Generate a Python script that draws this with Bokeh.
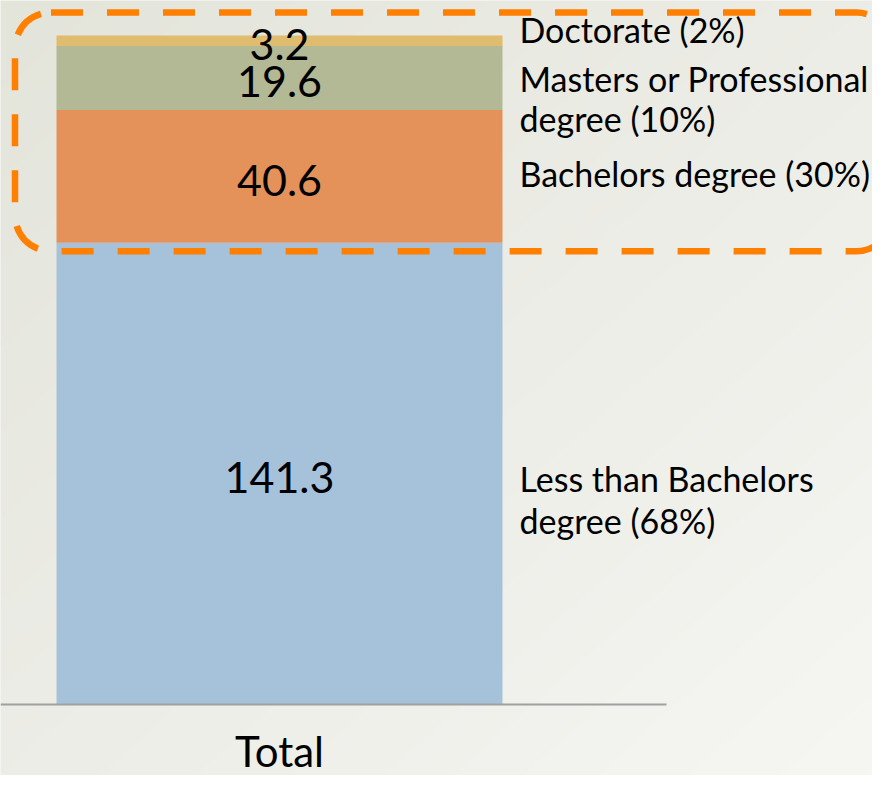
import numpy as np
from bokeh.plotting import figure
from bokeh.models import Range1d, BoxAnnotation, ColumnDataSource
from bokeh.core.properties import value
from bokeh.embed import file_html
from bokeh.resources import INLINE

# ---------------- data ----------------
category = ["Total"]
levels = ["Less than Bachelors degree", "Bachelors degree",
          "Masters or Professional degree", "Doctorate"]
counts = [141.3, 40.6, 19.6, 3.2]          # stacked from bottom to top
shares = [68, 30, 10, 2]                    # percent of total
label_lines = [["Less than Bachelors", "degree (68%)"],
               ["Bachelors degree (30%)"],
               ["Masters or Professional", "degree (10%)"],
               ["Doctorate (2%)"]]
colors = ["#A6C2DA", "#E5925A", "#B3B994", "#E0BC6E"]

# ---------------- layout / style ----------------
W, H = 872, 775
BAR_PX = 446            # bar width in pixels (= 1 data unit)
BAR_LEFT_PX = 56
BASE_PX = 704           # pixel row of y = 0
TOP_PX = 35             # pixel row of the stack top
FONT = value("Lato")

counts_arr = np.array(counts)
tops = np.cumsum(counts_arr)
bottoms = tops - counts_arr
mids = (tops + bottoms) / 2
total = tops[-1]
ppu = (BASE_PX - TOP_PX) / total

x0 = -0.5 - BAR_LEFT_PX / BAR_PX
x1 = x0 + W / BAR_PX
y0 = -(H - BASE_PX) / ppu
y1 = BASE_PX / ppu

p = figure(width=W, height=H, x_range=Range1d(x0, x1), y_range=Range1d(y0, y1),
           output_backend="svg", toolbar_location=None,
           x_axis_type=None, y_axis_type=None, min_border=0,
           outline_line_color=None)
p.background_fill_color = "#EEEFE8"
p.border_fill_color = "#EEEFE8"

# soft diagonal background gradient (decoration only)
n = 200
u = np.linspace(0, 1, n)
U, V = np.meshgrid(u, u)          # V: 0 at bottom row
t = (U + (1 - V)) / 2
c0 = np.array([0xE3, 0xE4, 0xDA])
c1 = np.array([0xF6, 0xF6, 0xF3])
img = np.empty((n, n), dtype=np.uint32)
view = img.view(dtype=np.uint8).reshape((n, n, 4))
for k in range(3):
    view[:, :, k] = (c0[k] + (c1[k] - c0[k]) * t).astype(np.uint8)
view[:, :, 3] = 255
p.image_rgba(image=[img], x=x0, y=y0, dw=x1 - x0, dh=y1 - y0)

# stacked bar
src = ColumnDataSource({"x": [0], **{lv: [c] for lv, c in zip(levels, counts)}})
p.vbar_stack(levels, x="x", width=1, fill_color=colors, line_color=None, source=src)

# axis line
p.segment(x0=[x0], y0=[0], x1=[0.5 + 164 / BAR_PX], y1=[0],
          line_color="#A0A0A0", line_width=2)

# value labels inside the bar
p.text(x=[0] * len(counts), y=list(mids), text=[f"{c:.1f}" for c in counts],
       text_align="center", text_baseline="alphabetic", y_offset=4,
       text_font=FONT, text_font_size="43px", text_color="#000000")

# category label
p.text(x=[0], y=[0], text=category, text_align="center", text_baseline="alphabetic",
       y_offset=46, text_font=FONT, text_font_size="42px", text_color="#000000")

# right-hand labels
line_offsets = [[5, 47], [-3], [0.5, 41], [-11]]
lx, ly, lt, lo = [], [], [], []
for i, lines in enumerate(label_lines):
    for line, off in zip(lines, line_offsets[i]):
        lx.append(0.5 + 17 / BAR_PX)
        ly.append(mids[i])
        lt.append(line)
        lo.append(off)
lab_src = ColumnDataSource({"x": lx, "y": ly, "text": lt, "off": lo})
p.text(x="x", y="y", text="text", y_offset="off", source=lab_src,
       text_align="left", text_baseline="alphabetic",
       text_font=FONT, text_font_size="34px", text_color="#000000")

# dashed rounded highlight around degree holders
box = BoxAnnotation(left=-0.5 - 41.5 / BAR_PX, right=0.5 + 390 / BAR_PX,
                    bottom=tops[0] - 8.5 / ppu, top=total + 23 / ppu,
                    fill_color=None, fill_alpha=0,
                    line_color="#FF7F00", line_alpha=1.0, line_width=6.5,
                    line_dash="32 24", border_radius=36)
p.add_layout(box)

open("out.html", "w").write(file_html(p, INLINE))
